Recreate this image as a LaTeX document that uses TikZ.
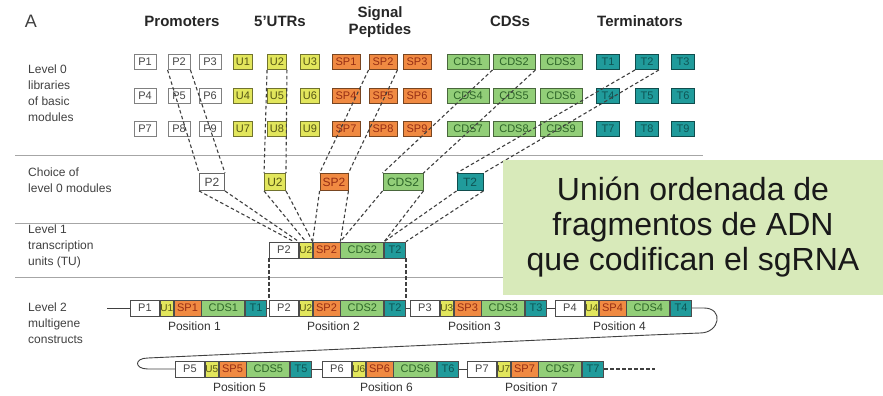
\documentclass[tikz,border=0pt]{standalone}
\usepackage{fontspec}
\setmainfont{Liberation Sans}
\usepackage{tikz}
\usetikzlibrary{positioning}
\definecolor{modgray}{RGB}{70,70,70}
\definecolor{utryellow}{RGB}{226,230,92}
\definecolor{utrtext}{RGB}{85,85,20}
\definecolor{sporange}{RGB}{240,138,66}
\definecolor{sptext}{RGB}{150,45,20}
\definecolor{cdsgreen}{RGB}{146,206,120}
\definecolor{cdstext}{RGB}{45,100,40}
\definecolor{termteal}{RGB}{32,155,155}
\definecolor{termtext}{RGB}{15,85,85}
\definecolor{notegreen}{RGB}{216,234,186}
\tikzstyle{lib} = [line width=0.9pt, inner sep=0pt, minimum height=15pt, font=\fontsize{11}{11}\selectfont]
\tikzstyle{pick} = [lib, minimum height=17pt, font=\fontsize{12}{12}\selectfont]
\tikzstyle{seg} = [draw=black!70, line width=0.8pt, inner sep=0pt, minimum height=16pt, font=\fontsize{11}{11}\selectfont]
\tikzstyle{dashlink} = [line width=1.1pt, black!75, dash pattern=on 3.5pt off 2.5pt]
\tikzstyle{link} = [line width=0.9pt, black!75]
\tikzstyle{sepline} = [line width=0.8pt, black!35]
\tikzstyle{head} = [font=\bfseries\fontsize{15}{17}\selectfont, text=black!85, align=center]
\tikzstyle{side} = [anchor=north west, inner sep=0pt, align=left, font=\fontsize{12}{16}\selectfont, text=black!75]
\tikzstyle{poslab} = [inner sep=0pt, font=\fontsize{12}{12}\selectfont, text=black!80]
\tikzstyle{notebox} = [fill=notegreen, minimum width=380pt, minimum height=135pt, align=center, font=\fontsize{32}{35}\selectfont, text=black!90]

% one transcription unit: P, U, SP, CDS, T
\newcommand{\geneunit}[4]{%
  \node[seg, fill=white, text=modgray, minimum width=29pt, anchor=west] (#1p) at (#2,#3) {P#4};
  \node[seg, fill=utryellow, text=utrtext, minimum width=13pt, font=\fontsize{10}{10}\selectfont, right=0pt of #1p] (#1u) {U#4};
  \node[seg, fill=sporange, text=sptext, minimum width=27pt, right=0pt of #1u] (#1sp) {SP#4};
  \node[seg, fill=cdsgreen, text=cdstext, minimum width=43pt, right=0pt of #1sp] (#1cds) {CDS#4};
  \node[seg, fill=termteal, text=termtext, minimum width=21pt, right=0pt of #1cds] (#1t) {T#4};
}

\begin{document}
\begin{tikzpicture}[x=1pt, y=-1pt]
\useasboundingbox (0,0) rectangle (883,396);

% Separators
\draw[sepline] (15,155) -- (703,155);
\draw[sepline] (15,223) -- (703,223);
\draw[sepline] (15,277) -- (703,277);

% Headers
\node[font=\fontsize{18}{18}\selectfont, text=black!75] (lblA) at (31,21) {A};
\node[head] (hprom) at (182,21) {Promoters};
\node[head] (hutr) at (280,21) {5'UTRs};
\node[head] (hsig) at (380,22) {Signal\\Peptides};
\node[head] (hcds) at (510,21) {CDSs};
\node[head] (hterm) at (640,21) {Terminators};

% Row labels
\node[side] (lev0) at (28,65) {Level 0\\libraries\\of basic\\modules};
\node[side] (choice) at (28,168) {Choice of\\level 0 modules};
\node[side] (lev1) at (28,225) {Level 1\\transcription\\units (TU)};
\node[side] (lev2) at (28,303) {Level 2\\multigene\\constructs};

% Level 0 libraries
\foreach \fam/\lab/\w/\fc/\tc/\xa/\xb/\xc in {p/P/22/white/modgray/145/179/210,
    u/U/19/utryellow/utrtext/243/277/310, sp/SP/28/sporange/sptext/346/383/417,
    cds/CDS/42/cdsgreen/cdstext/468/514/561, t/T/23/termteal/termtext/608/647/683}{
  \foreach \y [count=\r from 0] in {62,96,129}{
    \foreach \x [count=\c] in {\xa,\xb,\xc}{
      \pgfmathtruncatemacro{\n}{3*\r+\c}
      \node[lib, draw=\fc!50!black, fill=\fc, text=\tc, minimum width=\w pt] (\fam\n) at (\x,\y) {\lab\n};
    }
  }
}

% Choice of level 0 modules
\node[pick, draw=black!60, fill=white, text=modgray, minimum width=25pt] (cp) at (212,182) {P2};
\node[pick, draw=utryellow!50!black, fill=utryellow, text=utrtext, minimum width=21pt] (cu) at (275,182) {U2};
\node[pick, draw=sporange!50!black, fill=sporange, text=sptext, minimum width=28pt] (csp) at (334,182) {SP2};
\node[pick, draw=cdsgreen!50!black, fill=cdsgreen, text=cdstext, minimum width=40pt] (ccds) at (403,182) {CDS2};
\node[pick, draw=termteal!50!black, fill=termteal, text=termtext, minimum width=26pt] (ct) at (470,182) {T2};

% Level 1 transcription unit
\geneunit{tu}{269}{250}{2}

% Level 2 multigene construct
\geneunit{ga}{130}{308}{1}
\geneunit{gb}{269}{308}{2}
\geneunit{gc}{410}{308}{3}
\geneunit{gd}{555}{308}{4}
\geneunit{ge}{175}{369}{5}
\geneunit{gf}{322}{369}{6}
\geneunit{gg}{467}{369}{7}

\node[poslab, below=5pt of gasp.south east, xshift=-7pt] (pos1) {Position 1};
\node[poslab, below=5pt of gbsp.south east, xshift=-7pt] (pos2) {Position 2};
\node[poslab, below=5pt of gcsp.south east, xshift=-7pt] (pos3) {Position 3};
\node[poslab, below=5pt of gdsp.south east, xshift=-7pt] (pos4) {Position 4};
\node[poslab, below=5pt of gesp.south east, xshift=-7pt] (pos5) {Position 5};
\node[poslab, below=5pt of gfsp.south east, xshift=-7pt] (pos6) {Position 6};
\node[poslab, below=5pt of ggsp.south east, xshift=-7pt] (pos7) {Position 7};

% Backbone
\coordinate (lead) at (107,308);
\coordinate (bendR) at (700,333);
\coordinate (kink) at (650,335);
\coordinate (bendL) at (148,358);
\coordinate (tail) at (655,369);
\draw[link] (lead) -- (gap.west);
\draw[link] (gat.east) -- (gbp.west);
\draw[link] (gbt.east) -- (gcp.west);
\draw[link] (gct.east) -- (gdp.west);
\draw[link] (gdt.east) -- ++(12,0) .. controls +(20,0) and +(20,0) .. (bendR) -- (kink) -- (bendL)
  .. controls +(-14,0) and +(-14,0) .. (gep.west -| bendL) -- (gep.west);
\draw[link] (get.east) -- (gfp.west);
\draw[link] (gft.east) -- (ggp.west);
\draw[dashlink] (ggt.east) -- (tail);

% Level 0 -> choice
\draw[dashlink] (p2.south west) -- (cp.north west);
\draw[dashlink] (p2.south east) -- (cp.north east);
\draw[dashlink] (u2.south west) -- (cu.north west);
\draw[dashlink] (u2.south east) -- (cu.north east);
\draw[dashlink] (sp2.south west) -- (csp.north west);
\draw[dashlink] (sp2.south east) -- (csp.north east);
\draw[dashlink] (cds2.south west) -- (ccds.north west);
\draw[dashlink] (cds2.south east) -- (ccds.north east);
\draw[dashlink] (t2.south west) -- (ct.north west);
\draw[dashlink] (t2.south east) -- (ct.north east);

% Choice -> level 1
\draw[dashlink] (cp.south west) -- ([xshift=-5pt]tup.north east);
\draw[dashlink] (cp.south east) -- (tup.north east);
\draw[dashlink] (cu.south west) -- (tuu.north);
\draw[dashlink] (cu.south east) -- (tuu.north east);
\draw[dashlink] (csp.south west) -- (tusp.north west);
\draw[dashlink] (csp.south east) -- (tusp.north east);
\draw[dashlink] (ccds.south west) -- (tucds.north west);
\draw[dashlink] (ccds.south east) -- (tucds.north east);
\draw[dashlink] (ct.south west) -- (tut.north west);
\draw[dashlink] (ct.south east) -- (tut.north east);

% Level 1 -> level 2
\draw[dashlink] (tup.south west) -- (gbp.north west);
\draw[dashlink] (tut.south east) -- (gbt.north east);

% Note
\node[notebox] (note) at (693,227.5) {Unión ordenada de\\fragmentos de ADN\\que codifican el sgRNA};
\end{tikzpicture}
\end{document}
